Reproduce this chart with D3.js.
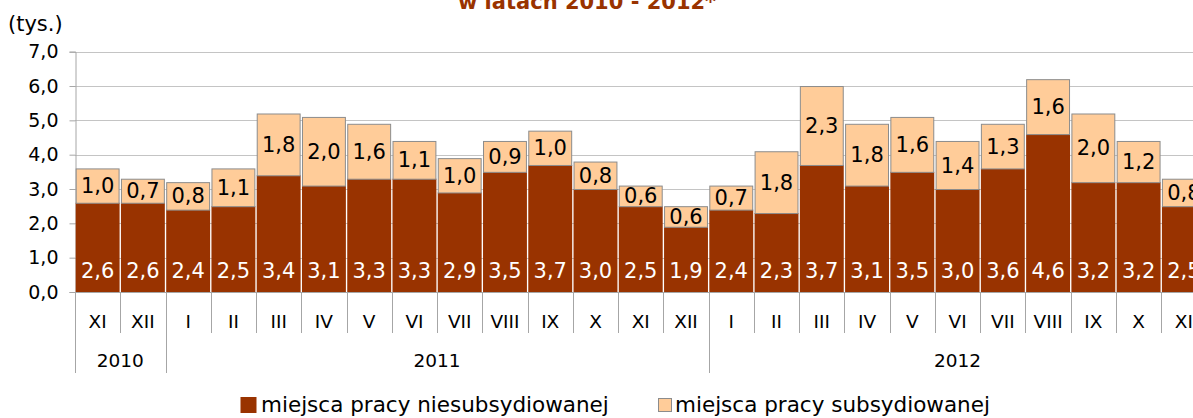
<!DOCTYPE html>
<html>
<head>
<meta charset="utf-8">
<script src="https://cdn.jsdelivr.net/npm/d3@7"></script>
<style>
  body { margin: 0; background: #fff; }
  svg { display: block; font-family: "DejaVu Sans", Verdana, sans-serif; }
</style>
</head>
<body>
<div id="chart"></div>
<script>
// dane
const months = ["XI", "XII", "I", "II", "III", "IV", "V", "VI", "VII", "VIII", "IX", "X", "XI", "XII",
                "I", "II", "III", "IV", "V", "VI", "VII", "VIII", "IX", "X", "XI"];
const years = ["2010", "2011", "2012"];
const yearLengths = [2, 12, 11];
const niesubsydiowane = [2.6, 2.6, 2.4, 2.5, 3.4, 3.1, 3.3, 3.3, 2.9, 3.5, 3.7, 3.0, 2.5, 1.9,
                         2.4, 2.3, 3.7, 3.1, 3.5, 3.0, 3.6, 4.6, 3.2, 3.2, 2.5];
const subsydiowane = [1.0, 0.7, 0.8, 1.1, 1.8, 2.0, 1.6, 1.1, 1.0, 0.9, 1.0, 0.8, 0.6, 0.6,
                      0.7, 1.8, 2.3, 1.8, 1.6, 1.4, 1.3, 1.6, 2.0, 1.2, 0.8];
const yTicks = [0, 1, 2, 3, 4, 5, 6, 7];
const seriesNames = ["miejsca pracy niesubsydiowanej", "miejsca pracy subsydiowanej"];

const width = 1193;
const height = 418;
const dark = "#993300";
const light = "#ffcc99";
const fmt = d => d.toFixed(1).replace(".", ",");

const svg = d3.select("#chart")
    .append("svg")
    .attr("width", width)
    .attr("height", height);

const idx = d3.range(months.length);
const x = d3.scaleBand()
    .domain(idx)
    .range([75, 75 + 45.26 * months.length])
    .paddingInner(0.03)
    .paddingOuter(0.015);
const step = x.step();
const x0 = 75;

const y = d3.scaleLinear().domain([0, 7]).range([292, 51.7]);

// tytuł (widoczna tylko dolna część)
svg.append("text")
    .attr("x", 587).attr("y", 9)
    .attr("text-anchor", "middle")
    .attr("font-weight", "bold")
    .attr("font-size", 21)
    .attr("fill", dark)
    .text("w latach 2010 - 2012*");

svg.append("text")
    .attr("x", 8).attr("y", 31)
    .attr("font-size", 21)
    .text("(tys.)");

// siatka
svg.append("g")
    .selectAll("line")
    .data(yTicks.filter(d => d > 0))
    .join("line")
    .attr("x1", x0).attr("x2", width)
    .attr("y1", d => Math.round(y(d)) + 0.5)
    .attr("y2", d => Math.round(y(d)) + 0.5)
    .attr("stroke", "#c4c4c4");

// oś Y
const yAxis = svg.append("g")
    .attr("transform", `translate(${x0 + 0.5},0)`)
    .call(d3.axisLeft(y).tickValues(yTicks).tickFormat(fmt).tickSize(6).tickPadding(11));
yAxis.select(".domain").attr("stroke", "#a6a6a6");
yAxis.selectAll(".tick line").attr("stroke", "#a6a6a6");
yAxis.selectAll("text")
    .attr("font-size", 19)
    .attr("font-family", "DejaVu Sans, sans-serif")
    .attr("fill", "#000");

// słupki
const bars = svg.append("g");
bars.selectAll("rect.nie")
    .data(idx)
    .join("rect")
    .attr("class", "nie")
    .attr("x", i => x(i))
    .attr("width", x.bandwidth())
    .attr("y", i => y(niesubsydiowane[i]))
    .attr("height", i => y(0) - y(niesubsydiowane[i]))
    .attr("fill", dark);

bars.selectAll("rect.sub")
    .data(idx)
    .join("rect")
    .attr("class", "sub")
    .attr("x", i => x(i) + 0.5)
    .attr("width", x.bandwidth() - 1)
    .attr("y", i => y(niesubsydiowane[i] + subsydiowane[i]) + 0.5)
    .attr("height", i => y(niesubsydiowane[i]) - y(niesubsydiowane[i] + subsydiowane[i]))
    .attr("fill", light)
    .attr("stroke", "#8c8c8c")
    .attr("stroke-width", 1);

// etykiety wartości
bars.selectAll("text.nie")
    .data(idx)
    .join("text")
    .attr("class", "nie")
    .attr("x", i => x(i) + x.bandwidth() / 2)
    .attr("y", y(0) - 14.5)
    .attr("text-anchor", "middle")
    .attr("font-size", 21)
    .attr("fill", "#fff")
    .text(i => fmt(niesubsydiowane[i]));

bars.selectAll("text.sub")
    .data(idx)
    .join("text")
    .attr("class", "sub")
    .attr("x", i => x(i) + x.bandwidth() / 2)
    .attr("y", i => y(niesubsydiowane[i] + subsydiowane[i] / 2) + 7.6)
    .attr("text-anchor", "middle")
    .attr("font-size", 21)
    .attr("fill", "#000")
    .text(i => fmt(subsydiowane[i]));

// oś X
const axisCol = "#a6a6a6";
svg.append("line")
    .attr("x1", x0).attr("x2", width)
    .attr("y1", y(0) + 0.5).attr("y2", y(0) + 0.5)
    .attr("stroke", axisCol);

svg.append("g")
    .selectAll("line")
    .data(d3.range(months.length + 1))
    .join("line")
    .attr("x1", i => Math.round(x0 + i * step) + 0.5)
    .attr("x2", i => Math.round(x0 + i * step) + 0.5)
    .attr("y1", y(0))
    .attr("y2", 333)
    .attr("stroke", axisCol);

svg.append("g")
    .selectAll("text")
    .data(idx)
    .join("text")
    .attr("x", i => x(i) + x.bandwidth() / 2)
    .attr("y", 328)
    .attr("text-anchor", "middle")
    .attr("font-size", 18.5)
    .text(i => months[i]);

// lata
const yearStarts = yearLengths.map((d, i) => d3.sum(yearLengths.slice(0, i)));
svg.append("g")
    .selectAll("line")
    .data(yearStarts.concat([months.length]))
    .join("line")
    .attr("x1", i => Math.round(x0 + i * step) + 0.5)
    .attr("x2", i => Math.round(x0 + i * step) + 0.5)
    .attr("y1", 333)
    .attr("y2", 373)
    .attr("stroke", axisCol);

svg.append("g")
    .selectAll("text")
    .data(years)
    .join("text")
    .attr("x", (d, i) => x0 + (yearStarts[i] + yearLengths[i] / 2) * step)
    .attr("y", 367)
    .attr("text-anchor", "middle")
    .attr("font-size", 18.5)
    .text(d => d);

// legenda
const legend = svg.append("g");
const legendX = [240, 658];
const legendTextX = [261, 675];
legend.selectAll("rect")
    .data(seriesNames)
    .join("rect")
    .attr("x", (d, i) => legendX[i] + 0.5)
    .attr("y", (d, i) => i === 0 ? 397 : 398.5)
    .attr("width", (d, i) => i === 0 ? 16 : 13)
    .attr("height", (d, i) => i === 0 ? 16 : 13)
    .attr("fill", (d, i) => i === 0 ? dark : light)
    .attr("stroke", (d, i) => i === 0 ? "none" : "#8c8c8c");
legend.selectAll("text")
    .data(seriesNames)
    .join("text")
    .attr("x", (d, i) => legendTextX[i])
    .attr("y", 412)
    .attr("font-size", 21.5)
    .text(d => d);
</script>
</body>
</html>
